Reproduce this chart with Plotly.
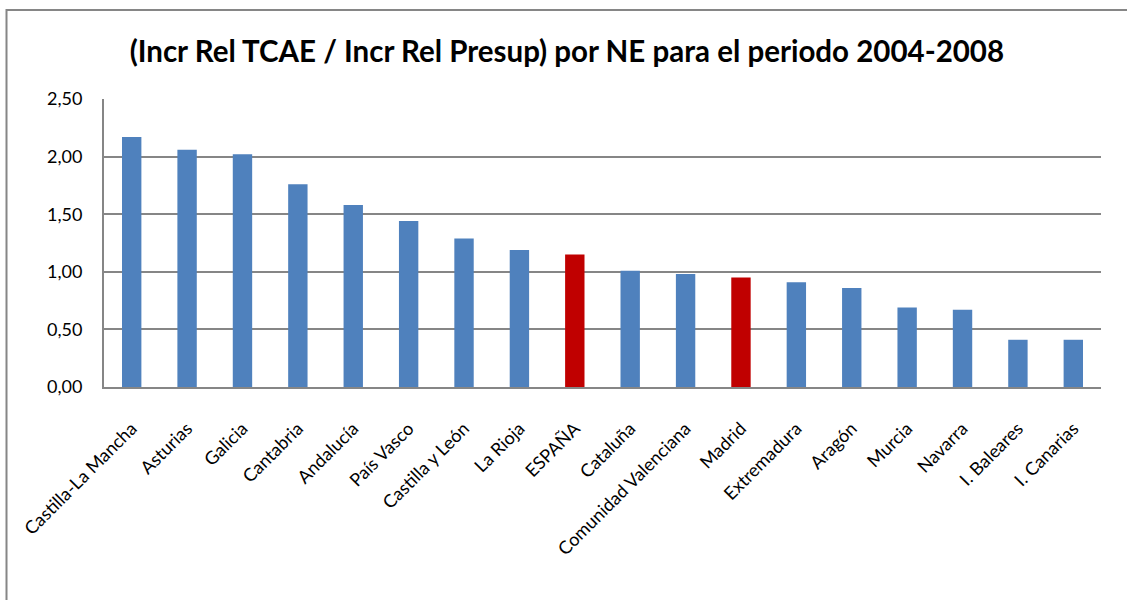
import plotly.graph_objects as go

categories = ["Castilla-La Mancha", "Asturias", "Galicia", "Cantabria", "Andalucía",
              "País Vasco", "Castilla y León", "La Rioja", "ESPAÑA", "Cataluña",
              "Comunidad Valenciana", "Madrid", "Extremadura", "Aragón", "Murcia",
              "Navarra", "I. Baleares", "I. Canarias"]
values = [2.17, 2.06, 2.02, 1.76, 1.58, 1.44, 1.29, 1.19, 1.15, 1.01,
          0.98, 0.95, 0.91, 0.86, 0.69, 0.67, 0.41, 0.41]
highlight = ["ESPAÑA", "Madrid"]
title_text = "(Incr Rel TCAE / Incr Rel Presup) por NE para el periodo 2004-2008"
y_ticks = [0, 0.5, 1.0, 1.5, 2.0, 2.5]

BLUE = "#4F81BD"
RED = "#C00000"
colors = [RED if c in highlight else BLUE for c in categories]

FONT = "Lato, Carlito, 'Open Sans', sans-serif"

fig = go.Figure(go.Bar(
    x=categories, y=values, marker_color=colors,
    marker_line_width=0, width=0.35,
))

L, R, T, B = 104, 26, 99, 213
W, H = 1127, 600
pw = W - L - R
ph = H - T - B

def px_x(px):
    return (px - L) / pw

def px_y(py):
    return (H - B - py) / ph

fig.update_layout(
    width=W, height=H,
    margin=dict(l=L, r=R, t=T, b=B),
    paper_bgcolor="white", plot_bgcolor="white",
    separators=",.",
    showlegend=False,
    font=dict(family=FONT, color="black"),
    title=dict(text="<b>" + title_text + "</b>", x=0.503, xanchor="center",
               y=1 - 52 / H, yanchor="middle",
               font=dict(family=FONT, size=29.5, color="black")),
    xaxis=dict(showgrid=False, showline=True, linecolor="#868686", linewidth=2,
               tickangle=-45, tickfont=dict(size=18, family=FONT), ticks="",
               range=[-0.5, len(categories) - 0.5], ticklabelstandoff=22),
    yaxis=dict(range=[0, 2.5], tickvals=y_ticks, tickformat=".2f",
               showgrid=True, gridcolor="#868686", gridwidth=1.5,
               showline=True, linecolor="#868686", linewidth=2,
               ticks="", tickfont=dict(size=18, family=FONT), zeroline=False,
               ticklabelstandoff=16),
    shapes=[dict(type="rect", xref="paper", yref="paper",
                 x0=px_x(6.5), x1=px_x(1135), y0=px_y(10), y1=px_y(610),
                 line=dict(color="#868686", width=2), fillcolor="rgba(0,0,0,0)",
                 layer="below")],
)

fig.write_html("out.html", config={"displayModeBar": False},
               post_script="document.body.style.margin='0';")
